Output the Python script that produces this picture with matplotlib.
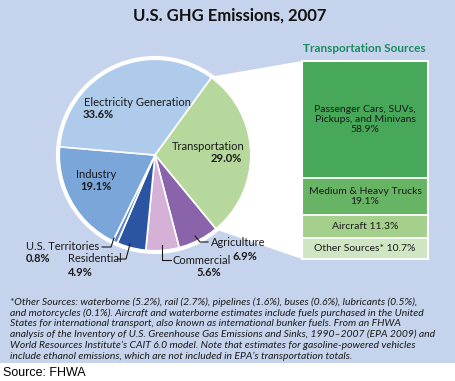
import numpy as np
import matplotlib
matplotlib.use("Agg")
import matplotlib.pyplot as plt
import matplotlib.patches as patches

# data
sectors = ['Transportation', 'Agriculture', 'Commercial', 'Residential',
           'U.S. Territories', 'Industry', 'Electricity Generation']
shares = [29.0, 6.9, 5.6, 4.9, 0.8, 19.1, 33.6]
sector_colors = ['#b6d89c', '#8a64aa', '#d5b1d8', '#2b55a3',
                 '#5d88c8', '#7aa6da', '#aecbeb']

trans_sources = ['Passenger Cars, SUVs,\nPickups, and Minivans', 'Medium & Heavy Trucks',
                 'Aircraft', 'Other Sources*']
trans_shares = [58.9, 19.1, 11.3, 10.7]
trans_colors = ['#46a858', '#67b464', '#a5d08b', '#cfe6c4']

footnote = [
    "*Other Sources: waterborne (5.2%), rail (2.7%), pipelines (1.6%), buses (0.6%), lubricants (0.5%),",
    "and motorcycles (0.1%). Aircraft and waterborne estimates include fuels purchased in the United",
    "States for international transport, also known as international bunker fuels. From an FHWA",
    "analysis of the Inventory of U.S. Greenhouse Gas Emissions and Sinks, 1990\u20132007 (EPA 2009) and",
    "World Resources Institute\u2019s CAIT 6.0 model. Note that estimates for gasoline-powered vehicles",
    "include ethanol emissions, which are not included in EPA\u2019s transportation totals.",
]

FONT = ['Lato', 'DejaVu Sans']
BG = '#c5d4ec'
W, H = 456, 381

fig = plt.figure(figsize=(W / 100, H / 100), dpi=100)
fig.patch.set_facecolor('white')

# base axes in pixel coords (y down)
base = fig.add_axes([0, 0, 1, 1])
base.set_xlim(0, W)
base.set_ylim(H, 0)
base.axis('off')
base.add_patch(patches.Rectangle((0, 0), W, 363, facecolor=BG, edgecolor='none'))

# pie geometry
cx, cy, r = 155, 155, 97
start = 54
a_end = start - 360 * shares[0] / sum(shares)
p1 = (cx + r * np.cos(np.radians(start)), cy - r * np.sin(np.radians(start)))
p2 = (cx + r * np.cos(np.radians(a_end)), cy - r * np.sin(np.radians(a_end)))
bx0, bx1, by0, by1 = 302, 428, 61, 259
base.add_patch(patches.Polygon([(cx, cy), p1, (bx0, by0), (bx0, by1), p2],
                               closed=True, facecolor='white', edgecolor='none'))

# pie
pad = 1.08
pie_ax = fig.add_axes([(cx - r * pad) / W, (H - cy - r * pad) / H, 2 * r * pad / W, 2 * r * pad / H])
pie_ax.pie(shares, colors=sector_colors, startangle=start, counterclock=False,
           radius=1, wedgeprops=dict(edgecolor='white', linewidth=1.2))
pie_ax.add_patch(patches.Circle((0, 0), 1.0, fill=False, edgecolor='white', linewidth=3))
pie_ax.set_xlim(-pad, pad)
pie_ax.set_ylim(-pad, pad)
pie_ax.axis('off')

# stacked bar of transportation sources
bar_ax = fig.add_axes([bx0 / W, (H - by1) / H, (bx1 - bx0) / W, (by1 - by0) / H])
bottoms = np.concatenate([[0], np.cumsum(trans_shares)[:-1]])
bar_ax.bar([0.5] * len(trans_shares), trans_shares, bottom=bottoms, width=1,
           color=trans_colors, edgecolor='white', linewidth=1.2)
bar_ax.set_xlim(0, 1)
bar_ax.set_ylim(sum(trans_shares), 0)
bar_ax.axis('off')
for name, val, b in zip(trans_sources, trans_shares, bottoms):
    mid = b + val / 2
    if name.startswith('Passenger') or name.startswith('Medium'):
        txt = f"{name}\n{val:.1f}%"
    else:
        txt = f"{name} {val:.1f}%"
    bar_ax.text(0.5, mid, txt, ha='center', va='center', fontsize=7.5,
                family=FONT, color='#1a1a1a', linespacing=1.15)
bar_ax.add_patch(patches.Rectangle((0, 0), 1, sum(trans_shares), fill=False,
                                   edgecolor='white', linewidth=1.5, clip_on=False))

# overlay for labels
lab = fig.add_axes([0, 0, 1, 1])
lab.set_xlim(0, W)
lab.set_ylim(H, 0)
lab.axis('off')
lab.patch.set_alpha(0)

lab.text(230, 16, 'U.S. GHG Emissions, 2007', ha='center', va='center',
         fontsize=12, fontweight='bold', family=FONT, color='#111111')
lab.text(364, 49, 'Transportation Sources', ha='center', va='center',
         fontsize=8.5, fontweight='bold', family=FONT, color='#1b8a5f')

pct = dict(zip(sectors, shares))
def lbl(x, y, s, ha='left', bold=False):
    lab.text(x, y, s, ha=ha, va='center', fontsize=8, family=FONT, color='#1a1a1a',
             fontweight='bold' if bold else 'normal')

lbl(84, 103, 'Electricity Generation')
lbl(83, 115, f"{pct['Electricity Generation']:.1f}%", bold=True)
lbl(208, 146, 'Transportation', ha='center')
lbl(226, 159, f"{pct['Transportation']:.1f}%", ha='center', bold=True)
lbl(96, 174, 'Industry', ha='center')
lbl(96, 187, f"{pct['Industry']:.1f}%", ha='center', bold=True)
lbl(26, 246, 'U.S. Territories')
lbl(26, 258, f"{pct['U.S. Territories']:.1f}%", bold=True)
lbl(68, 259, 'Residential')
lbl(68, 272, f"{pct['Residential']:.1f}%", bold=True)
lbl(173, 260, 'Commercial')
lbl(209, 273, f"{pct['Commercial']:.1f}%", ha='center', bold=True)
lbl(211, 243, 'Agriculture')
lbl(245, 256, f"{pct['Agriculture']:.1f}%", ha='center', bold=True)

leaders = [
    [(102, 247), (111, 247), (114, 238)],
    [(118, 259), (126, 259), (130, 244)],
    [(162, 245), (162, 260), (171, 260)],
    [(195, 236), (200, 242), (208, 242)],
]
for pts in leaders:
    xs, ys = zip(*pts)
    lab.plot(xs, ys, color='#1a1a1a', linewidth=0.8)

for i, line in enumerate(footnote):
    lab.text(10, 302 + i * 10.8, line, ha='left', va='center', fontsize=7.5,
             style='italic', family=FONT, color='#1a1a1a')

lab.text(3, 373, 'Source: FHWA', ha='left', va='center', fontsize=9,
         family=['Liberation Sans', 'DejaVu Sans'], color='black')

fig.savefig('out.png', dpi=100, facecolor='white')
